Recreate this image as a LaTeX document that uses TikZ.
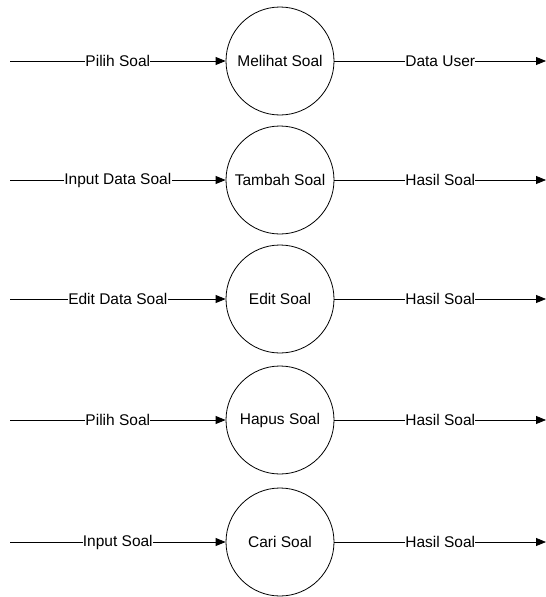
\documentclass[tikz,border=0pt]{standalone}
\usepackage{fontspec}
\setmainfont{Liberation Sans}
\usetikzlibrary{arrows.meta}
\tikzset{
  proc/.style={circle, draw, line width=0.8pt, minimum size=108pt, inner sep=0pt, font=\fontsize{15.5}{18}\selectfont},
  flow/.style={line width=0.8pt, -{Triangle[length=10pt,width=8pt]}},
  lbl/.style={fill=white, inner xsep=0.3pt, inner ysep=1pt, font=\fontsize{15.5}{18}\selectfont}
}
\begin{document}
\begin{tikzpicture}[x=1pt,y=1pt]
\useasboundingbox (0,0) rectangle (546,-597);
\foreach \n/\y/\name/\inl/\outl in {
  1/61/Melihat Soal/Pilih Soal/Data User,
  2/180/Tambah Soal/Input Data Soal/Hasil Soal,
  3/299/Edit Soal/Edit Data Soal/Hasil Soal,
  4/420/Hapus Soal/Pilih Soal/Hasil Soal,
  5/542/Cari Soal/Input Soal/Hasil Soal}{
  \node[proc] (p\n) at (280,-\y) {\name};
  \coordinate (src\n) at (10,-\y);
  \coordinate (dst\n) at (546,-\y);
  \draw[flow] (src\n) -- node[lbl] {\inl} (p\n);
  \draw[flow] (p\n) -- node[lbl] {\outl} (dst\n);
}
\end{tikzpicture}
\end{document}
